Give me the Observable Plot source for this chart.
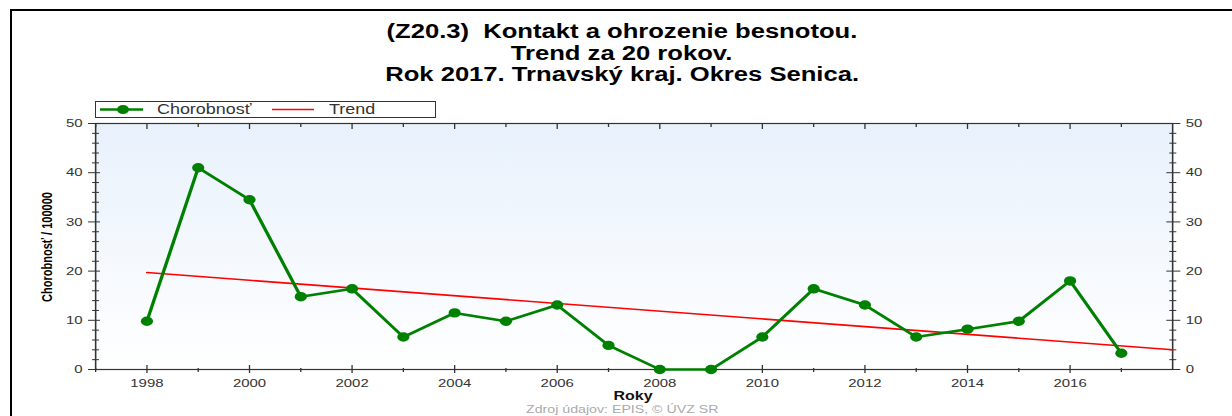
<!DOCTYPE html>
<html>
<head>
<meta charset="utf-8">
<script src="https://cdn.jsdelivr.net/npm/d3@7"></script>
<script src="https://cdn.jsdelivr.net/npm/@observablehq/plot@0.6"></script>
<style>
  html, body { margin: 0; padding: 0; background: #fff; }
  #wrap { position: relative; width: 1232px; height: 416px; overflow: hidden; font-family: "Liberation Sans", Arial, sans-serif; }
  #chart { position: absolute; left: 0; top: 0; }
  .hl { position: absolute; background: #000; }
  .title { position: absolute; left: 0; width: 1244px; text-align: center; font-weight: bold; font-size: 20px; line-height: 20px; color: #000; white-space: nowrap; }
  .title span { display: inline-block; transform: scaleX(1.28); transform-origin: center; }
  #legend { position: absolute; left: 95px; top: 101px; width: 341px; height: 17px; border: 1px solid #333; box-sizing: border-box; background: #fff; }
  #legend .lt { position: absolute; top: 0px; font-size: 14px; line-height: 15px; color: #333; transform: scaleX(1.28); transform-origin: left center; white-space: nowrap; }
  #ytitle { position: absolute; left: 47px; top: 247px; width: 0; height: 0; }
  #ytitle span { position: absolute; left: 0; top: 0; white-space: nowrap; font-weight: bold; font-size: 11px; line-height: 11px; color: #000; transform: translate(-50%, -50%) rotate(-90deg) scaleY(1.3); }
  #xtitle { position: absolute; left: 633px; top: 390px; font-weight: bold; font-size: 12.5px; line-height: 13px; color: #111; transform: translateX(-50%) scaleX(1.28); white-space: nowrap; }
  #footer { position: absolute; left: 0; width: 1244px; top: 404px; text-align: center; font-size: 10.5px; line-height: 11px; color: #aaa; white-space: nowrap; }
  #footer span { display: inline-block; transform: scaleX(1.35); }
</style>
</head>
<body>
<div id="wrap">
  <div id="chart"></div>
  <div class="hl" style="left:10px; top:9px; width:1222px; height:2px;"></div>
  <div class="hl" style="left:10px; top:9px; width:2px; height:407px;"></div>
  <div class="title" style="top:21px;"><span>(Z20.3)&nbsp;&nbsp;Kontakt a ohrozenie besnotou.</span></div>
  <div class="title" style="top:42.5px;"><span>Trend za 20 rokov.</span></div>
  <div class="title" style="top:64px;"><span>Rok 2017. Trnavský kraj. Okres Senica.</span></div>
  <div id="legend">
    <svg width="341" height="17" style="position:absolute;left:-1px;top:-1px;overflow:visible">
      <line x1="5" x2="48" y1="8.5" y2="8.5" stroke="#008000" stroke-width="2.5"></line>
      <ellipse cx="28" cy="8.5" rx="6" ry="4.6" fill="#008000"></ellipse>
      <line x1="177" x2="219" y1="8.5" y2="8.5" stroke="#ff0000" stroke-width="1.5"></line>
    </svg>
    <span class="lt" style="left:61px;">Chorobnosť</span>
    <span class="lt" style="left:233px;">Trend</span>
  </div>
  <div id="ytitle"><span>Chorobnosť / 100000</span></div>
  <div id="xtitle">Roky</div>
  <div id="footer"><span>Zdroj údajov: EPIS, © ÚVZ SR</span></div>
</div>
<script>
// ---- data ----
const years = [1998, 1999, 2000, 2001, 2002, 2003, 2004, 2005, 2006, 2007, 2008, 2009, 2010, 2011, 2012, 2013, 2014, 2015, 2016, 2017];
const incidence = [9.8, 41.0, 34.5, 14.8, 16.4, 6.6, 11.5, 9.8, 13.1, 4.9, 0, 0, 6.6, 16.4, 13.1, 6.6, 8.2, 9.8, 18.0, 3.3];
const trendYears = [1998, 2018];
const trendValues = [19.7, 4.0];
const xMajorTicks = [1998, 2000, 2002, 2004, 2006, 2008, 2010, 2012, 2014, 2016];
const xMinorTicks = [1997, 1999, 2001, 2003, 2005, 2007, 2009, 2011, 2013, 2015, 2017];
const yMajorTicks = [0, 10, 20, 30, 40, 50];
const yMinorTicks = [2, 4, 6, 8, 12, 14, 16, 18, 22, 24, 26, 28, 32, 34, 36, 38, 42, 44, 46, 48];
const xDomain = [1997, 2018];
const yDomain = [0, 50];

const series = years.map((year, i) => ({year, value: incidence[i]}));
const trend = trendYears.map((year, i) => ({year, value: trendValues[i]}));

// The reference is horizontally stretched: render narrower and stretch the SVG.
const OUT_W = 1232, OUT_H = 416;
const S = 1.2996;
const W = Math.round(OUT_W / S);
const k = OUT_W / W;
const px = v => v / k; // screen px -> svg units (horizontal)

const gradient = () => {
  const defs = d3.create("svg:defs");
  const g = defs.append("linearGradient").attr("id", "bgGrad")
    .attr("x1", 0).attr("y1", 0).attr("x2", 0).attr("y2", 1);
  g.append("stop").attr("offset", "0%").attr("stop-color", "#e8f1fc");
  g.append("stop").attr("offset", "100%").attr("stop-color", "#ffffff");
  return defs.node();
};

const axisColor = "#333";
const blank = () => "";

const chart = Plot.plot({
  width: W,
  height: OUT_H,
  marginLeft: px(95),
  marginRight: W - px(1172),
  marginTop: 123,
  marginBottom: OUT_H - 369,
  style: { background: "transparent", fontFamily: "'Liberation Sans', Arial, sans-serif", fontSize: "11.5px", color: axisColor, overflow: "visible" },
  x: { domain: xDomain },
  y: { domain: yDomain },
  marks: [
    gradient,
    Plot.frame({ fill: "url(#bgGrad)" }),
    // left axis ticks (crossing)
    Plot.axisY(yMajorTicks, { anchor: "left", tickSize: px(12), dx: px(5), tickFormat: blank, label: null, stroke: axisColor }),
    Plot.axisY(yMinorTicks, { anchor: "left", tickSize: px(7), dx: px(4), tickFormat: blank, label: null, stroke: axisColor }),
    Plot.axisY(yMajorTicks, { anchor: "left", tickSize: 0, tickPadding: px(13), label: null }),
    // right axis ticks
    Plot.axisY(yMajorTicks, { anchor: "right", tickSize: px(14), dx: -px(7), tickFormat: blank, label: null, stroke: axisColor }),
    Plot.axisY(yMinorTicks, { anchor: "right", tickSize: px(7), dx: -px(4), tickFormat: blank, label: null, stroke: axisColor }),
    Plot.axisY(yMajorTicks, { anchor: "right", tickSize: 0, tickPadding: px(13), label: null }),
    // bottom axis
    Plot.axisX(xMajorTicks, { anchor: "bottom", tickSize: 8, dy: -4, tickFormat: blank, label: null, stroke: axisColor }),
    Plot.axisX(xMinorTicks, { anchor: "bottom", tickSize: 4, dy: -1, tickFormat: blank, label: null, stroke: axisColor }),
    Plot.axisX(xMajorTicks, { anchor: "bottom", tickSize: 0, tickPadding: 9, tickFormat: d => String(d), label: null }),
    // top axis (inward ticks)
    Plot.axisX(xMajorTicks, { anchor: "top", tickSize: 5, dy: 5, tickFormat: blank, label: null, stroke: axisColor }),
    Plot.axisX(xMinorTicks, { anchor: "top", tickSize: 3, dy: 3, tickFormat: blank, label: null, stroke: axisColor }),
    Plot.frame({ stroke: axisColor, strokeWidth: 1.2 }),
    // trend
    Plot.line(trend, { x: "year", y: "value", stroke: "#ff0000", strokeWidth: 1.6 }),
    // series
    Plot.line(series, { x: "year", y: "value", stroke: "#008000", strokeWidth: 2.6 }),
    Plot.dot(series, { x: "year", y: "value", r: 4.7, fill: "#008000", stroke: "none" })
  ]
});

chart.setAttribute("width", OUT_W);
chart.setAttribute("height", OUT_H);
chart.setAttribute("preserveAspectRatio", "none");
chart.style.width = OUT_W + "px";
chart.style.height = OUT_H + "px";
chart.style.maxWidth = "none";
document.getElementById("chart").appendChild(chart);
</script>
</body>
</html>
